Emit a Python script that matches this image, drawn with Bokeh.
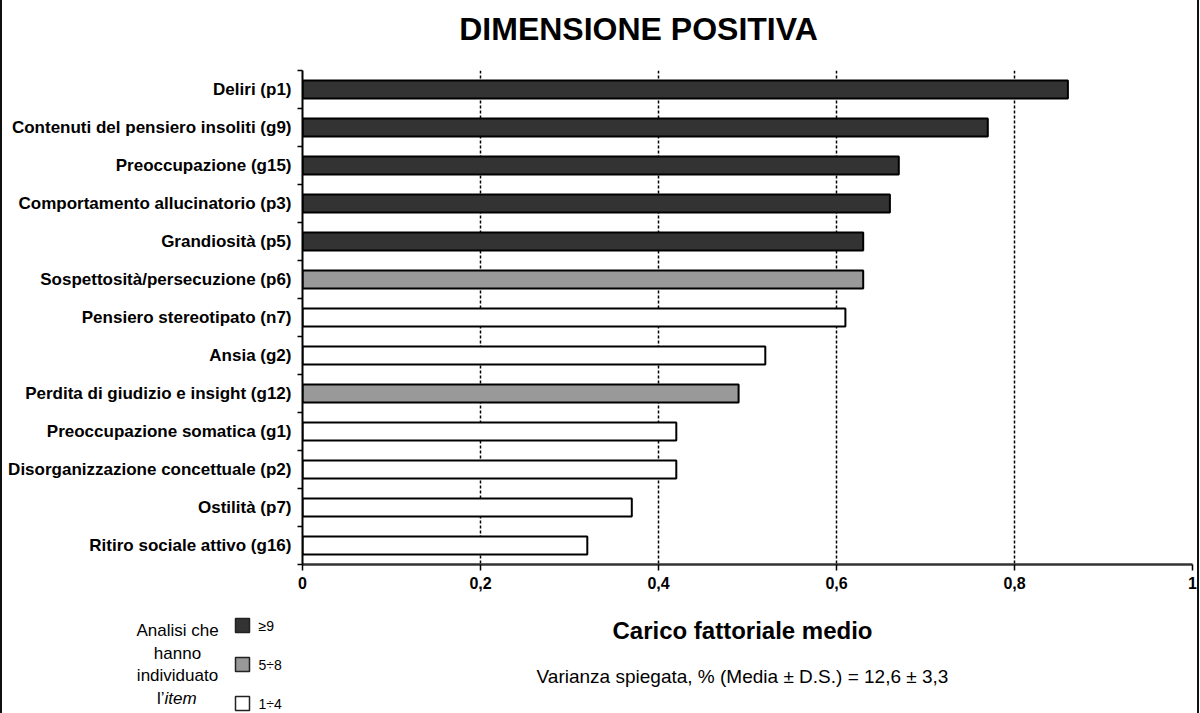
from bokeh.plotting import figure
from bokeh.layouts import column, row
from bokeh.models import Range1d, FixedTicker, Label, ColumnDataSource, Div
from bokeh.embed import file_html
from bokeh.resources import INLINE

# ---------------- data ----------------
items = [
    "Deliri (p1)",
    "Contenuti del pensiero insoliti (g9)",
    "Preoccupazione (g15)",
    "Comportamento allucinatorio (p3)",
    "Grandiosità (p5)",
    "Sospettosità/persecuzione (p6)",
    "Pensiero stereotipato (n7)",
    "Ansia (g2)",
    "Perdita di giudizio e insight (g12)",
    "Preoccupazione somatica (g1)",
    "Disorganizzazione concettuale (p2)",
    "Ostilità (p7)",
    "Ritiro sociale attivo (g16)",
]
loadings = [0.86, 0.77, 0.67, 0.66, 0.63, 0.63, 0.61, 0.52, 0.49, 0.42, 0.42, 0.37, 0.32]
groups = ["≥9", "≥9", "≥9", "≥9", "≥9", "5÷8", "1÷4", "1÷4", "5÷8", "1÷4", "1÷4", "1÷4", "1÷4"]
group_names = ["≥9", "5÷8", "1÷4"]
group_colors = ["#333333", "#999999", "#ffffff"]
x_ticks = [0, 0.2, 0.4, 0.6, 0.8, 1]
x_tick_labels = ["0", "0,2", "0,4", "0,6", "0,8", "1"]
title_text = "DIMENSIONE POSITIVA"
x_title = "Carico fattoriale medio"
subtitle = "Varianza spiegata, % (Media ± D.S.) = 12,6 ± 3,3"
legend_title_lines = ["Analisi che", "hanno", "individuato"]

FONT = "Liberation Sans"
n = len(items)

# ---------------- geometry (picture pixels) ----------------
BORDER = 2                 # side rules of the page frame
CW = 1195                  # content width
X0 = BORDER                # content left edge in picture pixels
HEAD_H = 66
MAIN_H = 534
FOOT_H = 113
FRAME_L, FRAME_R = 302, 1192
FRAME_T, FRAME_B = 70, 564


def blank(height, y_top):
    f = figure(width=CW, height=height, output_backend="svg", toolbar_location=None,
               x_range=Range1d(X0, X0 + CW), y_range=Range1d(y_top + height, y_top),
               min_border=0, min_border_left=0, min_border_right=0,
               min_border_top=0, min_border_bottom=0, frame_align=False)
    f.axis.visible = False
    f.grid.visible = False
    f.outline_line_color = None
    f.background_fill_color = "white"
    f.border_fill_color = "white"
    return f


def add_label(f, px, py, text, size, style="normal", align="center"):
    f.add_layout(Label(x=px, y=py, text=text, text_align=align,
                       text_baseline="middle", text_font=FONT,
                       text_font_size=size, text_font_style=style,
                       text_color="black"))


# ---------------- header ----------------
head = blank(HEAD_H, 0)
add_label(head, 638, 28, title_text, "32px", "bold")

# ---------------- main chart ----------------
p = figure(width=CW, height=MAIN_H, output_backend="svg", toolbar_location=None,
           x_range=Range1d(0, 1), y_range=Range1d(n, 0),
           min_border_left=FRAME_L - X0, min_border_right=X0 + CW - FRAME_R,
           min_border_top=FRAME_T - HEAD_H,
           min_border_bottom=HEAD_H + MAIN_H - FRAME_B, frame_align=False)
p.outline_line_color = None
p.background_fill_color = "white"
p.border_fill_color = "white"

for g, c in zip(group_names, group_colors):
    idx = [i for i, gg in enumerate(groups) if gg == g]
    src = ColumnDataSource(dict(y=[i + 0.5 for i in idx],
                                right=[loadings[i] for i in idx]))
    p.hbar(y="y", left=0, right="right", height=0.47, source=src,
           fill_color=c, line_color="black", line_width=2)

p.ygrid.grid_line_color = None
p.xgrid.ticker = FixedTicker(ticks=x_ticks[1:])
p.xgrid.grid_line_color = "black"
p.xgrid.grid_line_width = 1.5
p.xgrid.grid_line_dash = "3 2"

xa = p.xaxis[0]
xa.ticker = FixedTicker(ticks=x_ticks)
xa.major_label_overrides = {t: l for t, l in zip(x_ticks, x_tick_labels)}
xa.axis_line_width = 2.5
xa.axis_line_color = "#333333"
xa.major_tick_in = 0
xa.major_tick_out = 6
xa.major_tick_line_width = 1.5
xa.major_tick_line_color = "black"
xa.minor_tick_line_color = None
xa.major_label_text_font = FONT
xa.major_label_text_font_style = "bold"
xa.major_label_text_font_size = "16px"
xa.major_label_text_color = "black"
xa.major_label_standoff = 6

ya = p.yaxis[0]
ya.ticker = FixedTicker(ticks=[i + 0.5 for i in range(n)],
                        minor_ticks=list(range(n + 1)))
ya.major_label_overrides = {i + 0.5: items[i] for i in range(n)}
ya.axis_line_width = 2
ya.axis_line_color = "black"
ya.major_tick_line_color = None
ya.major_tick_in = 0
ya.major_tick_out = 0
ya.minor_tick_in = 0
ya.minor_tick_out = 5
ya.minor_tick_line_width = 1.5
ya.minor_tick_line_color = "black"
ya.major_label_text_font = FONT
ya.major_label_text_font_style = "bold"
ya.major_label_text_font_size = "17px"
ya.major_label_text_color = "black"
ya.major_label_standoff = 6

# ---------------- footer: axis title, note, legend ----------------
FOOT_TOP = HEAD_H + MAIN_H
foot = blank(FOOT_H, FOOT_TOP)
add_label(foot, 742, 630, x_title, "24px", "bold")
add_label(foot, 742, 676, subtitle, "19px")
for k, line in enumerate(legend_title_lines):
    add_label(foot, 177, 630 + 22.5 * k, line, "17px")
add_label(foot, 164, 697.5, "l’", "17px", align="right")
add_label(foot, 164, 697.5, "item", "17px", "italic", align="left")

sq_y = [625 + 39 * k for k in range(len(group_names))]
foot.rect(x=[242] * len(group_names), y=sq_y, width=14, height=14,
          fill_color=group_colors, line_color="#222222", line_width=1.5)
for yy, g in zip(sq_y, group_names):
    add_label(foot, 258, yy, g, "14px", align="left")

# ---------------- page frame rules ----------------
TOTAL_H = HEAD_H + MAIN_H + FOOT_H
left_rule = Div(width=BORDER, height=TOTAL_H, margin=0,
                styles={"background-color": "#111111"})
right_rule = Div(width=BORDER, height=TOTAL_H, margin=0,
                 styles={"background-color": "#111111"})

layout = row(left_rule, column(head, p, foot, spacing=0), right_rule, spacing=0)

open("out.html", "w").write(file_html(layout, INLINE))
